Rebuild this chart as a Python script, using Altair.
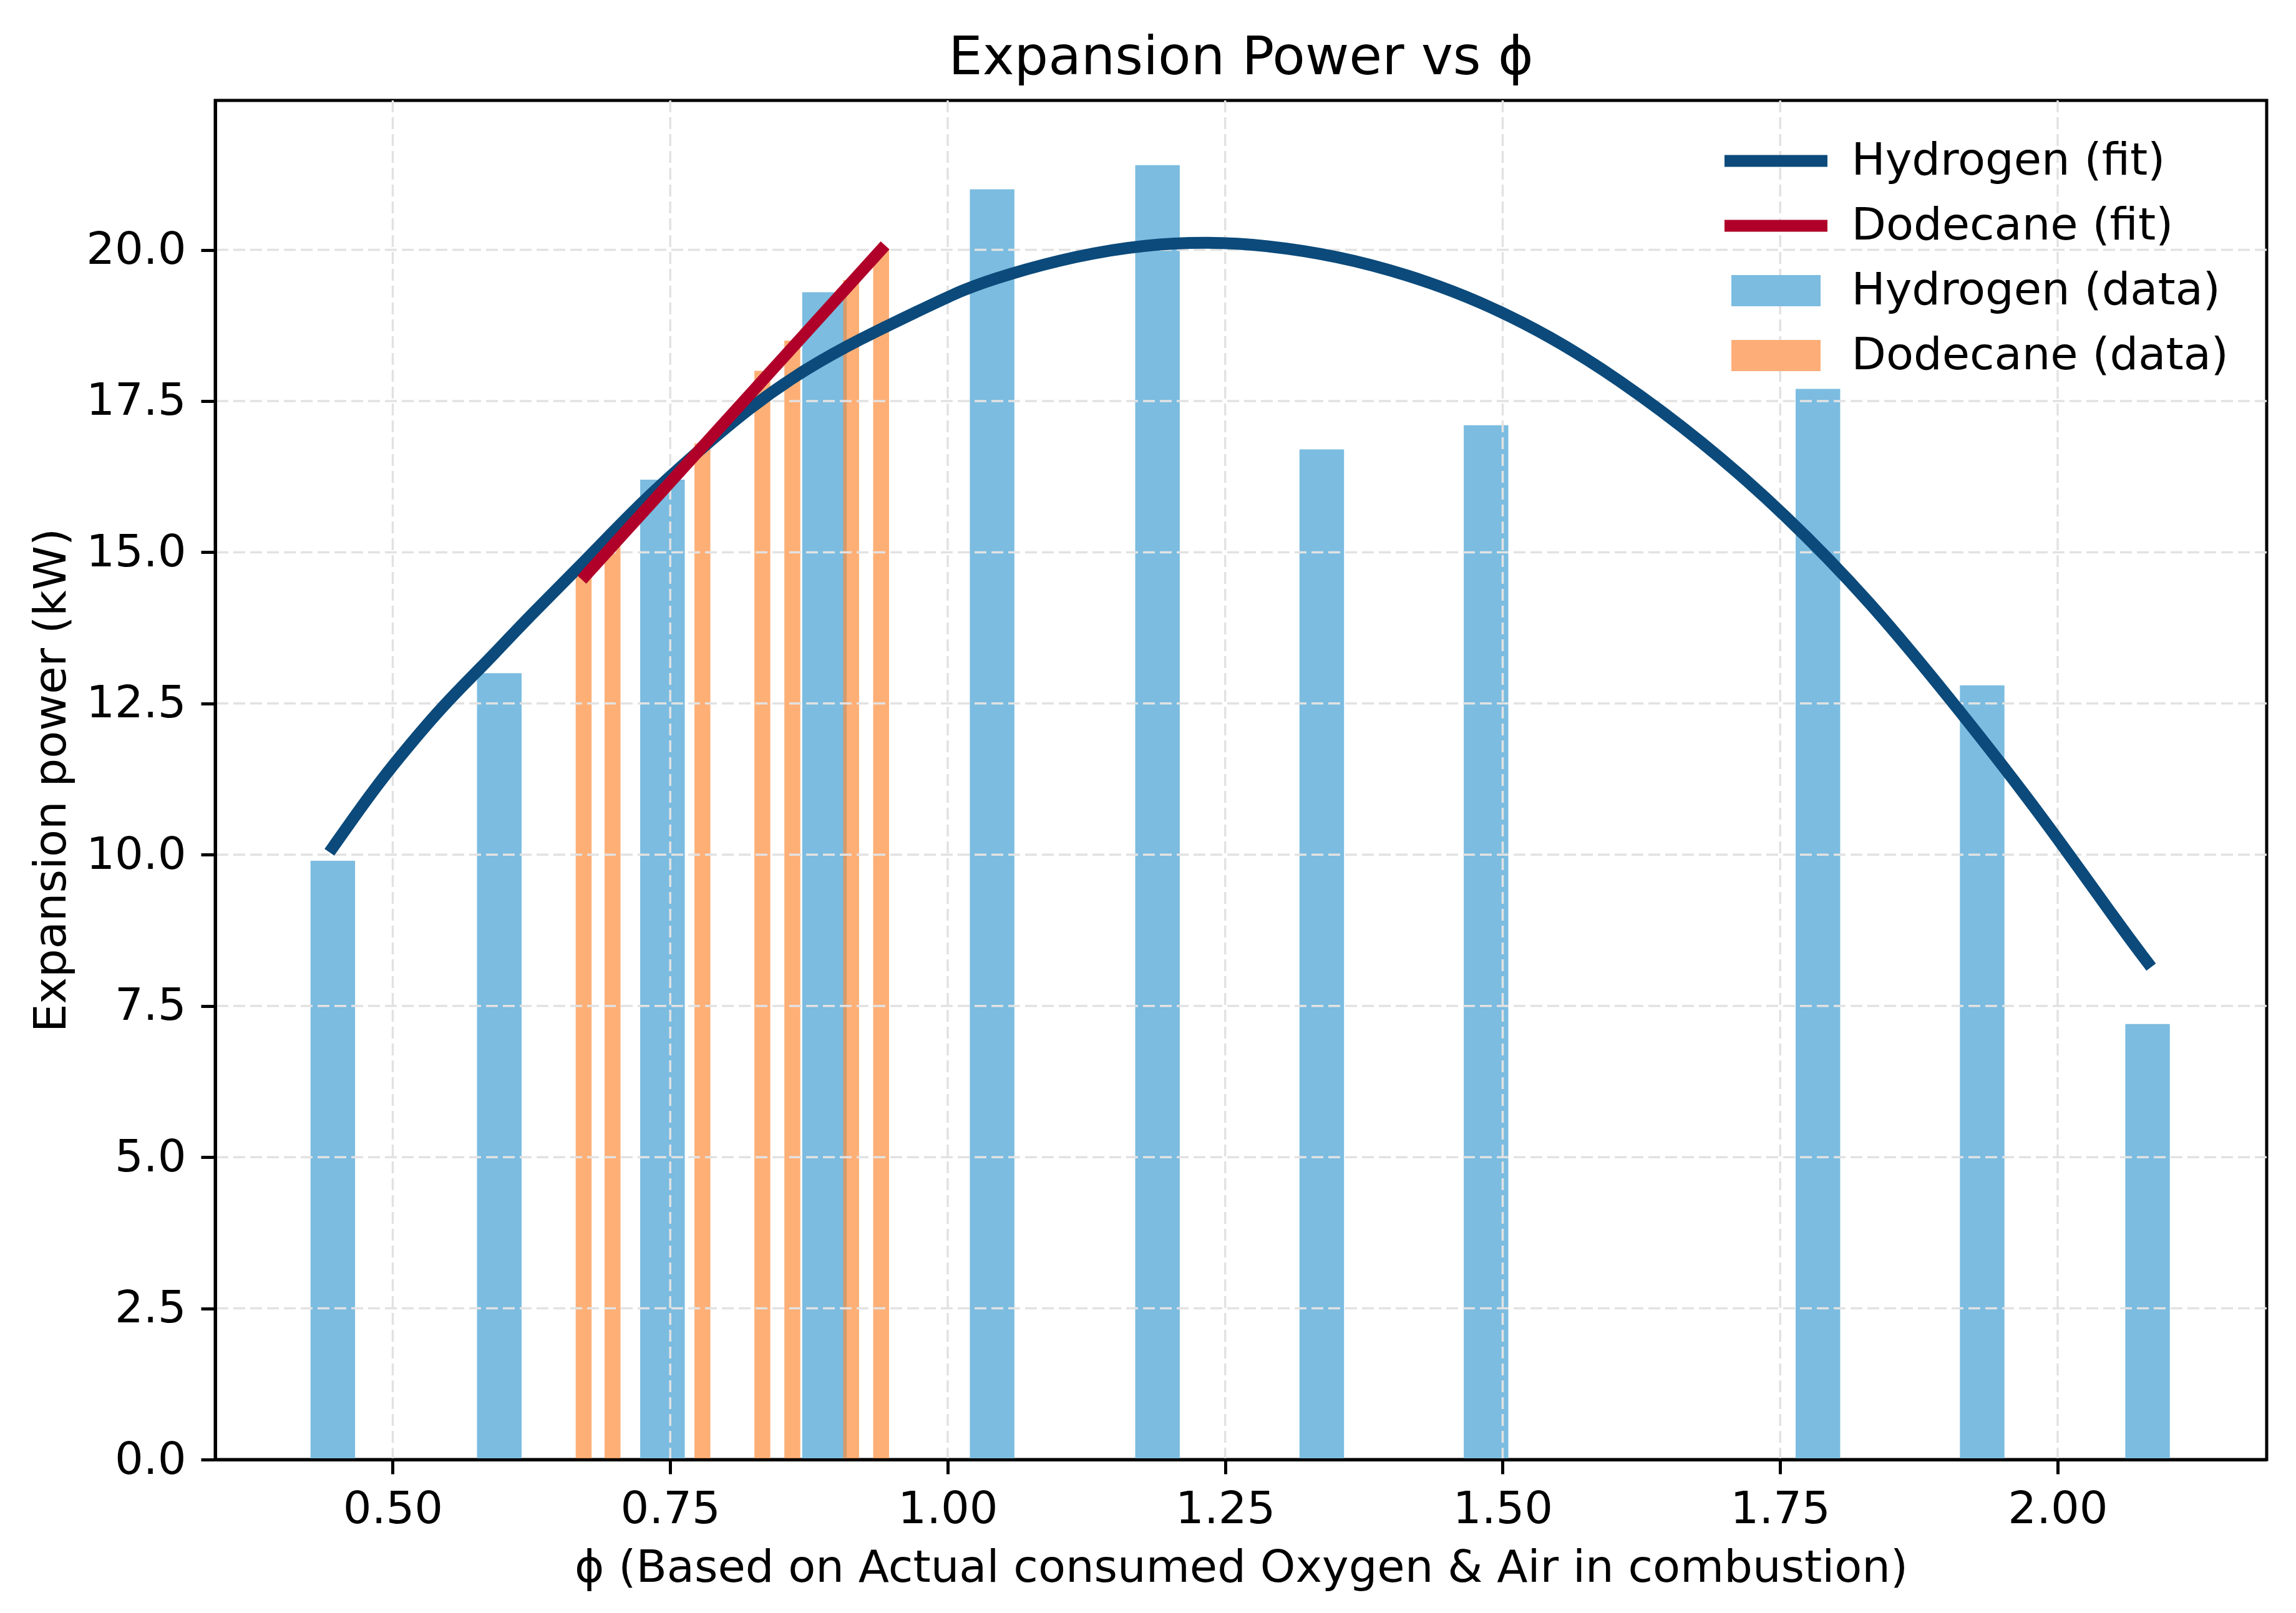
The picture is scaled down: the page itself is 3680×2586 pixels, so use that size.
import altair as alt
import pandas as pd

# bar data
h2_phi = [0.446, 0.596, 0.743, 0.889, 1.040, 1.189, 1.337, 1.485, 1.784, 1.932, 2.081]
h2_power = [9.9, 13.0, 16.2, 19.3, 21.0, 21.4, 16.7, 17.1, 17.7, 12.8, 7.2]

dod_phi = [0.672, 0.698, 0.779, 0.833, 0.860, 0.913, 0.940]
dod_power = [14.6, 15.2, 16.8, 18.0, 18.5, 19.5, 20.0]

# fitted curves
h2_fit_phi = [0.446, 0.464, 0.490, 0.515, 0.540, 0.565, 0.590, 0.6225, 0.6725,
              0.7225, 0.7725, 0.8225, 0.8725, 0.9225, 0.9725, 1.0145,
              1.051, 1.115, 1.179, 1.235, 1.286, 1.351, 1.415, 1.480, 1.544,
              1.603, 1.679, 1.7545, 1.830, 1.9045, 1.982, 2.057, 2.081]
h2_fit_power = [10.12, 10.59, 11.25, 11.81, 12.35, 12.83, 13.29, 13.93, 14.84,
                15.80, 16.63, 17.41, 18.04, 18.54, 18.98, 19.35,
                19.58, 19.90, 20.09, 20.13, 20.08, 19.90, 19.59, 19.15, 18.56,
                17.88, 16.85, 15.63, 14.21, 12.55, 10.74, 8.80, 8.22]

dod_fit_phi = [0.674, 0.940]
dod_fit_power = [14.62, 20.0]

x_ticks = [0.50, 0.75, 1.00, 1.25, 1.50, 1.75, 2.00]
y_ticks = [0.0, 2.5, 5.0, 7.5, 10.0, 12.5, 15.0, 17.5, 20.0]

series = ["Hydrogen (fit)", "Dodecane (fit)", "Hydrogen (data)", "Dodecane (data)"]
colors = ["#0b4a7b", "#b0002a", "#7bbce0", "#fdae78"]

FONT = "DejaVu Sans"
LINE_SHAPE = "M-16.5,-1.9L16.5,-1.9L16.5,1.9L-16.5,1.9Z"
RECT_SHAPE = "M-14.3,-5L14.3,-5L14.3,5L-14.3,5Z"

h2_df = pd.DataFrame({"phi": h2_phi, "power": h2_power, "series": series[2]})
dod_df = pd.DataFrame({"phi": dod_phi, "power": dod_power, "series": series[3]})
h2_fit_df = pd.DataFrame({"phi": h2_fit_phi, "power": h2_fit_power, "series": series[0]})
dod_fit_df = pd.DataFrame({"phi": dod_fit_phi, "power": dod_fit_power, "series": series[1]})
all_df = pd.concat([h2_fit_df, dod_fit_df, h2_df, dod_df], ignore_index=True)

x_scale = alt.Scale(domain=[0.3429, 2.1855], nice=False, zero=False)
y_scale = alt.Scale(domain=[0, 22.47], nice=False)
color_scale = alt.Scale(domain=series, range=colors)
shape_scale = alt.Scale(domain=series, range=[LINE_SHAPE, LINE_SHAPE, RECT_SHAPE, RECT_SHAPE])

x_axis = alt.Axis(
    values=x_ticks, format=".2f", grid=False, zindex=1,
    title="ϕ (Based on Actual consumed Oxygen & Air in combustion)",
    labelPadding=21, titlePadding=23,
)
y_axis = alt.Axis(
    values=y_ticks, format=".1f", grid=False, zindex=1,
    title="Expansion power (kW)", labelPadding=24, titlePadding=26,
)

legend = alt.Legend(
    title=None, orient="top-right", offset=32, padding=29,
    symbolSize=100, symbolOpacity=1, symbolStrokeWidth=0,
    symbolOffset=46.5, labelOffset=85, rowPadding=32, labelLimit=0,
    labelFont=FONT, labelFontSize=72, labelColor="black",
)

x_enc = alt.X("phi:Q", scale=x_scale, axis=x_axis)
y_enc = alt.Y("power:Q", scale=y_scale, axis=y_axis)
color_enc = alt.Color("series:N", scale=color_scale, legend=legend)

h2_bars = alt.Chart(h2_df).mark_bar(size=71.4).encode(x=x_enc, y=y_enc, color=color_enc)

dod_bars = alt.Chart(dod_df).mark_bar(size=25.5, color="#fd8d3c", opacity=0.7).encode(
    x=x_enc, y=y_enc,
)

grid_style = dict(color="#e2e2e2", strokeWidth=3.5, strokeDash=[19, 8])
v_grid = alt.Chart(pd.DataFrame({"phi": x_ticks})).mark_rule(**grid_style).encode(x=x_enc)
h_grid = alt.Chart(pd.DataFrame({"power": y_ticks})).mark_rule(**grid_style).encode(y=y_enc)

h2_fit = alt.Chart(h2_fit_df).mark_line(
    strokeWidth=19, strokeCap="square", interpolate="basis"
).encode(x=x_enc, y=y_enc, color=color_enc)

dod_fit = alt.Chart(dod_fit_df).mark_line(strokeWidth=19, strokeCap="square").encode(
    x=x_enc, y=y_enc, color=color_enc,
)

legend_keys = alt.Chart(all_df).mark_point(filled=True, opacity=0).encode(
    x=x_enc, y=y_enc,
    color=color_enc,
    shape=alt.Shape("series:N", scale=shape_scale, legend=legend),
)

chart = (
    alt.layer(h2_bars, dod_bars, v_grid, h_grid, h2_fit, dod_fit, legend_keys)
    .properties(
        width=3288, height=2179,
        padding={"left": 38, "top": 42, "right": 20, "bottom": 20},
        title=alt.TitleParams("Expansion Power vs ϕ", fontSize=86, font=FONT,
                              fontWeight="normal", color="black", offset=22),
    )
    .configure(font=FONT)
    .configure_axis(
        labelFont=FONT, titleFont=FONT, labelFontSize=72, titleFontSize=72,
        labelColor="black", titleColor="black", titleFontWeight="normal",
        domainColor="black", domainWidth=5, tickColor="black", tickWidth=5,
        tickSize=23, labelFlush=False, labelOverlap=False,
    )
    .configure_view(stroke="black", strokeWidth=5)
)

chart.save("out.html", embed_options={"renderer": "svg", "actions": False})
